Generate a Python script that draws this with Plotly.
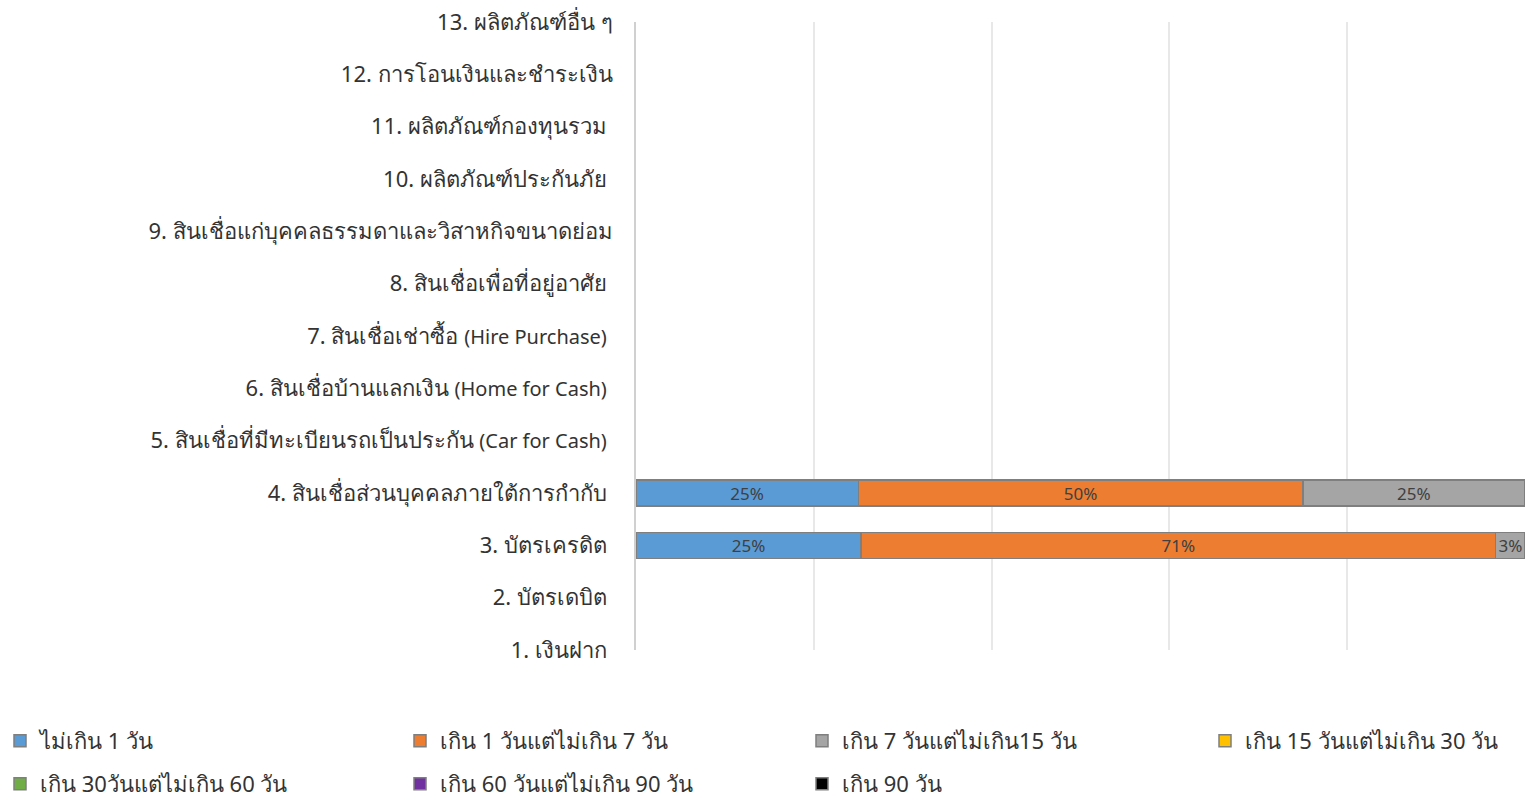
import plotly.graph_objects as go

NB = "\u00a0"
EN = "<span style='font-size:20px'>{}</span>"

categories = [
    "1. เงินฝาก" + NB,
    "2. บัตรเดบิต" + NB,
    "3. บัตรเครดิต" + NB,
    "4. สินเชื่อส่วนบุคคลภายใต้การกำกับ" + NB,
    "5. สินเชื่อที่มีทะเบียนรถเป็นประกัน " + EN.format("(Car for Cash)") + NB,
    "6. สินเชื่อบ้านแลกเงิน " + EN.format("(Home for Cash)") + NB,
    "7. สินเชื่อเช่าซื้อ " + EN.format("(Hire Purchase)") + NB,
    "8. สินเชื่อเพื่อที่อยู่อาศัย" + NB,
    "9. สินเชื่อแก่บุคคลธรรมดาและวิสาหกิจขนาดย่อม",
    "10. ผลิตภัณฑ์ประกันภัย" + NB,
    "11. ผลิตภัณฑ์กองทุนรวม" + NB,
    "12. การโอนเงินและชำระเงิน",
    "13. ผลิตภัณฑ์อื่น ๆ",
]

series_names = [
    "ไม่เกิน 1 วัน",
    "เกิน 1 วันแต่ไม่เกิน 7 วัน",
    "เกิน 7 วันแต่ไม่เกิน15 วัน",
    "เกิน 15 วันแต่ไม่เกิน 30 วัน",
    "เกิน 30วันแต่ไม่เกิน 60 วัน",
    "เกิน 60 วันแต่ไม่เกิน 90 วัน",
    "เกิน 90 วัน",
]
series_colors = ["#5B9BD5", "#ED7D31", "#A5A5A5", "#FFC000", "#70AD47", "#7030A0", "#000000"]

N = None
s_le1 = [N, N, 25.3, 25.0, N, N, N, N, N, N, N, N, N]
s_1_7 = [N, N, 71.4, 50.0, N, N, N, N, N, N, N, N, N]
s_7_15 = [N, N, 3.3, 25.0, N, N, N, N, N, N, N, N, N]
s_15_30 = [N] * 13
s_30_60 = [N] * 13
s_60_90 = [N] * 13
s_gt90 = [N] * 13
series_values = [s_le1, s_1_7, s_7_15, s_15_30, s_30_60, s_60_90, s_gt90]

FONT = "Tahoma, 'Noto Sans', 'DejaVu Sans', sans-serif"
W, H = 1527, 797

# legend entry positions (pixels from top-left of the page): 4 columns x 2 rows
legend_px = [(0, 720), (400, 720), (802, 720), (1205, 720),
             (0, 763), (400, 763), (802, 763)]

fig = go.Figure()
for i, (name, color, vals) in enumerate(zip(series_names, series_colors, series_values)):
    fig.add_trace(go.Bar(
        y=categories,
        x=vals,
        name=name,
        orientation="h",
        marker=dict(color=color, line=dict(color="#7f7f7f", width=1.5)),
        width=0.5,
        texttemplate="%{x:.0f}%",
        textposition="inside",
        insidetextanchor="middle",
        constraintext="none",
        textfont=dict(size=17, color="#404040", family=FONT),
        hoverinfo="x+y+name",
        legend="legend" if i == 0 else f"legend{i + 1}",
    ))

layout_legends = {}
for i, (lx, ly) in enumerate(legend_px):
    key = "legend" if i == 0 else f"legend{i + 1}"
    layout_legends[key] = dict(
        xref="container", yref="container",
        x=lx / W, y=1 - ly / H,
        xanchor="left", yanchor="top",
        orientation="h",
        font=dict(size=22, color="#333333", family=FONT),
        bgcolor="rgba(0,0,0,0)",
        borderwidth=0,
    )

fig.update_layout(
    barmode="stack",
    width=W,
    height=H,
    paper_bgcolor="white",
    plot_bgcolor="white",
    margin=dict(l=636, r=2, t=22, b=147),
    font=dict(family=FONT, size=22, color="#333333"),
    xaxis=dict(
        range=[0, 100],
        dtick=20,
        showticklabels=False,
        showgrid=True,
        gridcolor="#e8e8e8",
        gridwidth=1.5,
        zeroline=False,
        showline=False,
        ticks="",
    ),
    yaxis=dict(
        type="category",
        categoryorder="array",
        categoryarray=categories,
        range=[0, 12],
        showline=True,
        linecolor="#d0d0d0",
        linewidth=2,
        showgrid=False,
        ticks="",
        ticklabelstandoff=17,
        tickfont=dict(size=22, color="#333333"),
    ),
    showlegend=True,
    **layout_legends,
)

fig.write_html(
    "out.html",
    config={"displayModeBar": False},
    post_script="document.body.style.margin='0';document.body.style.overflow='hidden';",
)
